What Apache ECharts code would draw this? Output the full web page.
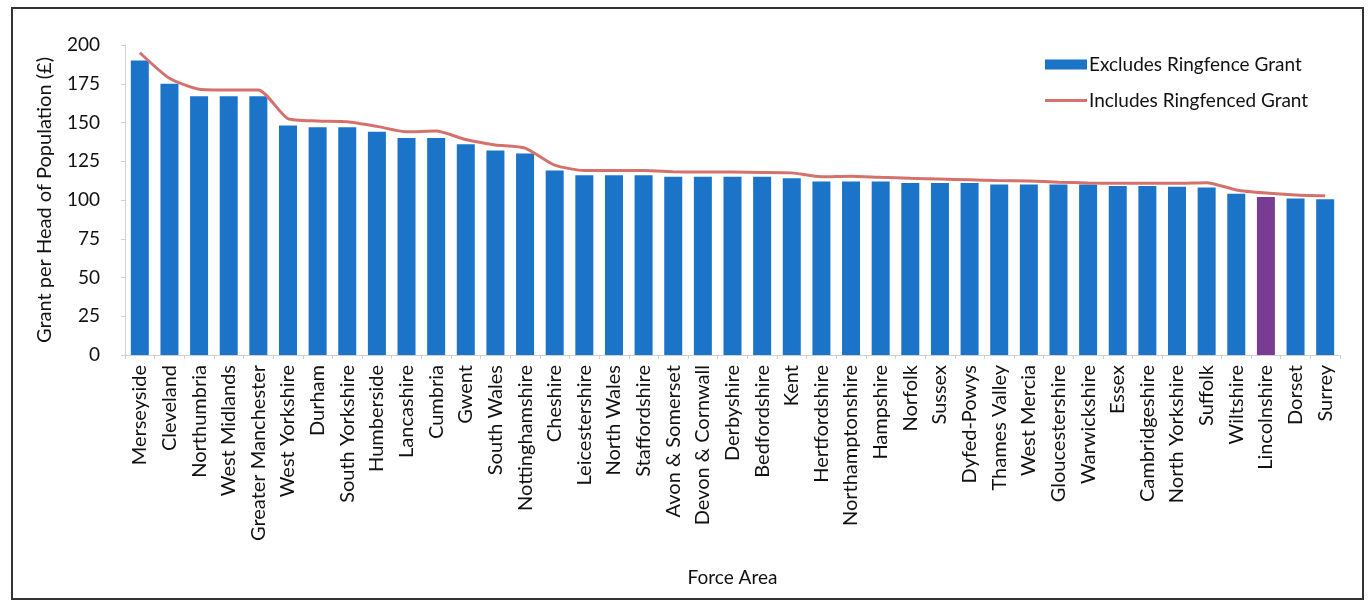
<!DOCTYPE html>
<html>
<head>
<meta charset="utf-8">
<script src="https://cdn.jsdelivr.net/npm/echarts@6/dist/echarts.min.js"></script>
<style>
  html, body { margin: 0; padding: 0; background: #ffffff; }
  #chart { width: 1372px; height: 607px; }
</style>
</head>
<body>
<div id="chart"></div>
<script>
// Police force areas, ordered by grant per head
const forceAreas = [
  'Merseyside', 'Cleveland', 'Northumbria', 'West Midlands', 'Greater Manchester',
  'West Yorkshire', 'Durham', 'South Yorkshire', 'Humberside', 'Lancashire',
  'Cumbria', 'Gwent', 'South Wales', 'Nottinghamshire', 'Cheshire',
  'Leicestershire', 'North Wales', 'Staffordshire', 'Avon & Somerset', 'Devon & Cornwall',
  'Derbyshire', 'Bedfordshire', 'Kent', 'Hertfordshire', 'Northamptonshire',
  'Hampshire', 'Norfolk', 'Sussex', 'Dyfed-Powys', 'Thames Valley',
  'West Mercia', 'Gloucestershire', 'Warwickshire', 'Essex', 'Cambridgeshire',
  'North Yorkshire', 'Suffolk', 'Wiltshire', 'Lincolnshire', 'Dorset', 'Surrey'
];

// Grant per head of population (£), excluding the ringfenced grant
const excludesRingfence = [
  190, 175, 167, 167, 167,
  148, 147, 147, 144, 140,
  140, 136, 132, 130, 119,
  116, 116, 116, 115, 115,
  115, 115, 114, 112, 112,
  112, 111, 111, 111, 110,
  110, 110, 110, 109, 109,
  108.5, 108, 104, 102, 101, 100.5
];

// Grant per head of population (£), including the ringfenced grant
const includesRingfenced = [
  195, 178.5, 171.5, 171, 171,
  152.5, 151, 150.5, 147.5, 144,
  144.5, 139, 135.5, 133.5, 122.5,
  119, 119, 119, 118.3, 118,
  118, 117.8, 117.5, 115, 115.4,
  114.6, 114, 113.5, 113, 112.5,
  112.3, 111.5, 111, 110.8, 110.8,
  110.8, 111.2, 106.5, 104.5, 103.3, 102.8
];

// Y axis ticks
const yTicks = [0, 25, 50, 75, 100, 125, 150, 175, 200];

const highlightedArea = 'Lincolnshire';
const barBlue = '#1b74c8';
const barPurple = '#793c93';
const lineRed = '#d5716c';
const textColor = '#111111';
const font = 'Lato, "Open Sans", sans-serif';

const chart = echarts.init(document.getElementById('chart'));

const barData = excludesRingfence.map((v, i) =>
  forceAreas[i] === highlightedArea
    ? { value: v, itemStyle: { color: barPurple } }
    : v
);

chart.setOption({
  animation: false,
  textStyle: { fontFamily: font },
  graphic: [{
    type: 'rect',
    shape: { x: 12, y: 8, width: 1351, height: 591 },
    style: { fill: 'none', stroke: '#333333', lineWidth: 2 },
    silent: true,
    z: -1
  }],
  legend: {
    orient: 'vertical',
    left: 1040,
    top: 50,
    itemGap: 17,
    itemWidth: 42,
    itemHeight: 10,
    textStyle: { fontFamily: font, fontSize: 19, color: textColor, padding: [0, 0, 0, -3] },
    data: [
      { name: 'Excludes Ringfence Grant', icon: 'rect' },
      { name: 'Includes Ringfenced Grant', icon: 'path://M0,0 L42,0 L42,3 L0,3 Z' }
    ]
  },
  grid: { left: 125, right: 32, top: 45, bottom: 252, containLabel: false },
  xAxis: {
    type: 'category',
    data: forceAreas,
    name: 'Force Area',
    nameLocation: 'middle',
    nameGap: 213,
    nameTextStyle: { fontFamily: font, fontSize: 19, color: textColor },
    axisLine: { lineStyle: { color: '#d0d0d0' } },
    axisTick: { show: true, length: 4, lineStyle: { color: '#d0d0d0' } },
    axisLabel: {
      rotate: 90,
      interval: 0,
      margin: 10,
      fontFamily: font,
      fontSize: 20,
      color: textColor
    }
  },
  yAxis: {
    type: 'value',
    min: yTicks[0],
    max: yTicks[yTicks.length - 1],
    interval: yTicks[1] - yTicks[0],
    name: 'Grant per Head of Population (£)',
    nameLocation: 'middle',
    nameGap: 70,
    nameTextStyle: { fontFamily: font, fontSize: 20, color: textColor },
    axisLine: { show: true, lineStyle: { color: '#d0d0d0' } },
    axisTick: { show: true, length: 4, lineStyle: { color: '#d0d0d0' } },
    splitLine: { show: false },
    axisLabel: { fontFamily: font, fontSize: 19, color: textColor, margin: 25 }
  },
  series: [
    {
      name: 'Excludes Ringfence Grant',
      type: 'bar',
      data: barData,
      barWidth: 18,
      itemStyle: { color: barBlue }
    },
    {
      name: 'Includes Ringfenced Grant',
      type: 'line',
      data: includesRingfenced,
      smooth: 0.2,
      symbol: 'none',
      lineStyle: { color: lineRed, width: 3 },
      itemStyle: { color: lineRed },
      z: 3
    }
  ]
});
</script>
</body>
</html>
